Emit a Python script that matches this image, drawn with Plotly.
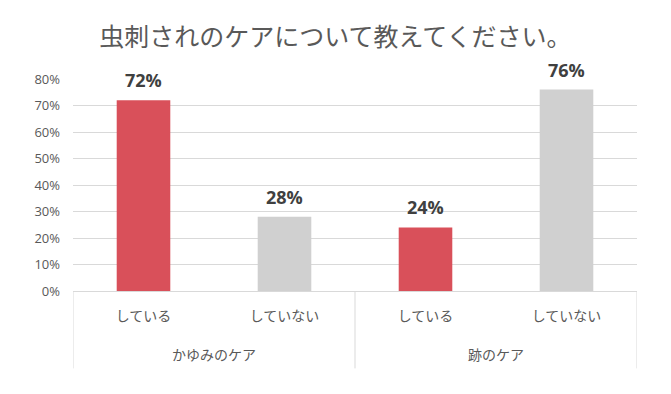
import plotly.graph_objects as go

groups = ["かゆみのケア", "跡のケア"]
answers = ["している", "していない", "している", "していない"]
values = [0.72, 0.28, 0.24, 0.76]
colors = ["#d9505a", "#d0d0d0", "#d9505a", "#d0d0d0"]
labels = ["72%", "28%", "24%", "76%"]
yticks = [0, 0.1, 0.2, 0.3, 0.4, 0.5, 0.6, 0.7, 0.8]
yticklabels = ["0%", "10%", "20%", "30%", "40%", "50%", "60%", "70%", "80%"]

xpos = list(range(len(answers)))

fig = go.Figure(go.Bar(
    x=xpos, y=values,
    marker=dict(color=colors, line=dict(width=0)),
    cliponaxis=False, hoverinfo="skip",
))

for xi, v, t in zip(xpos, values, labels):
    fig.add_annotation(x=xi, y=v, text=t, showarrow=False, xanchor="center", yanchor="bottom",
                       yshift=6,
                       font=dict(family="Open Sans", size=18, color="#404040", weight="bold"))

for gi, g in enumerate(groups):
    fig.add_annotation(x=gi * 2 + 0.5, y=-0.297, yref="paper", text=g, showarrow=False,
                       xanchor="center", yanchor="middle",
                       font=dict(family="Noto Sans CJK JP", size=14, color="#595959"))

for xd in [-0.5, 1.5, 3.5]:
    fig.add_shape(type="line", x0=xd, x1=xd, y0=0, y1=-0.365, xref="x", yref="paper",
                  line=dict(color="#d9d9d9", width=1))

fig.update_layout(
    width=671, height=394,
    margin=dict(l=73, r=34, t=79, b=103),
    paper_bgcolor="white", plot_bgcolor="white",
    bargap=0.62,
    showlegend=False,
    title=dict(text="虫刺されのケアについて教えてください。", x=0.5, xanchor="center", y=0.905, yanchor="middle",
               font=dict(family="Noto Sans CJK JP", size=25, color="#595959")),
    font=dict(family="Noto Sans CJK JP", color="#595959"),
)
fig.update_yaxes(range=[0, 0.8], tickvals=yticks, ticktext=yticklabels,
                 showgrid=True, gridcolor="#d9d9d9", gridwidth=1, zeroline=False,
                 showline=False, ticks="", ticklabelstandoff=12,
                 tickfont=dict(family="Open Sans", size=13, color="#595959"))
fig.update_xaxes(range=[-0.5, 3.5], tickvals=xpos, ticktext=answers,
                 showline=True, linecolor="#d9d9d9", linewidth=1, ticks="",
                 ticklabelstandoff=12, showgrid=False, zeroline=False,
                 tickfont=dict(family="Noto Sans CJK JP", size=14, color="#595959"))

fig.write_html("out.html", config={"displayModeBar": False},
               post_script="document.body.style.margin='0';")
